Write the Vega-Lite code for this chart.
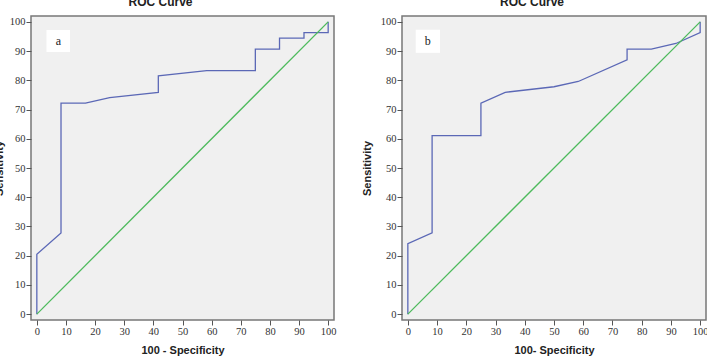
{
  "$schema": "https://vega.github.io/schema/vega-lite/v6.json",
  "padding": {"left": -8, "top": -5, "right": 0, "bottom": 0},
  "background": "white",
  "spacing": 68,
  "bounds": "flush",
  "config": {
    "view": {"fill": "#f0f0f0", "stroke": "#777777", "strokeWidth": 1.5},
    "axis": {
      "domain": false, "grid": false, "labelOverlap": false, "labelFlush": false, "tickCount": 12,
      "labelFont": "Liberation Serif", "labelFontSize": 10.5, "labelColor": "#333333",
      "tickColor": "#555555", "tickSize": 5, "labelPadding": 1,
      "titleFont": "Liberation Sans", "titleFontWeight": "bold", "titleFontSize": 11, "titleColor": "#222222"
    },
    "title": {"font": "Liberation Sans", "fontSize": 12, "fontWeight": "bold", "color": "#222222", "anchor": "middle", "dx": -22, "offset": 7}
  },
  "datasets": {
    "roc": [
      {"panel": "a", "series": "ROC", "i": 0, "fpr": 0, "sens": 0},
      {"panel": "a", "series": "ROC", "i": 1, "fpr": 0, "sens": 20.5},
      {"panel": "a", "series": "ROC", "i": 2, "fpr": 8.3, "sens": 27.8},
      {"panel": "a", "series": "ROC", "i": 3, "fpr": 8.3, "sens": 72.2},
      {"panel": "a", "series": "ROC", "i": 4, "fpr": 16.7, "sens": 72.2},
      {"panel": "a", "series": "ROC", "i": 5, "fpr": 25, "sens": 74.1},
      {"panel": "a", "series": "ROC", "i": 6, "fpr": 41.7, "sens": 75.9},
      {"panel": "a", "series": "ROC", "i": 7, "fpr": 41.7, "sens": 81.5},
      {"panel": "a", "series": "ROC", "i": 8, "fpr": 58.3, "sens": 83.3},
      {"panel": "a", "series": "ROC", "i": 9, "fpr": 75, "sens": 83.3},
      {"panel": "a", "series": "ROC", "i": 10, "fpr": 75, "sens": 90.7},
      {"panel": "a", "series": "ROC", "i": 11, "fpr": 83.3, "sens": 90.7},
      {"panel": "a", "series": "ROC", "i": 12, "fpr": 83.3, "sens": 94.4},
      {"panel": "a", "series": "ROC", "i": 13, "fpr": 91.7, "sens": 94.4},
      {"panel": "a", "series": "ROC", "i": 14, "fpr": 91.7, "sens": 96.3},
      {"panel": "a", "series": "ROC", "i": 15, "fpr": 100, "sens": 96.3},
      {"panel": "a", "series": "ROC", "i": 16, "fpr": 100, "sens": 100},
      {"panel": "a", "series": "Reference", "i": 0, "fpr": 0, "sens": 0},
      {"panel": "a", "series": "Reference", "i": 1, "fpr": 100, "sens": 100},
      {"panel": "b", "series": "ROC", "i": 0, "fpr": 0, "sens": 0},
      {"panel": "b", "series": "ROC", "i": 1, "fpr": 0, "sens": 24.1},
      {"panel": "b", "series": "ROC", "i": 2, "fpr": 8.3, "sens": 27.8},
      {"panel": "b", "series": "ROC", "i": 3, "fpr": 8.3, "sens": 61.1},
      {"panel": "b", "series": "ROC", "i": 4, "fpr": 25, "sens": 61.1},
      {"panel": "b", "series": "ROC", "i": 5, "fpr": 25, "sens": 72.2},
      {"panel": "b", "series": "ROC", "i": 6, "fpr": 33.3, "sens": 75.9},
      {"panel": "b", "series": "ROC", "i": 7, "fpr": 50, "sens": 77.8},
      {"panel": "b", "series": "ROC", "i": 8, "fpr": 58.3, "sens": 79.6},
      {"panel": "b", "series": "ROC", "i": 9, "fpr": 75, "sens": 87},
      {"panel": "b", "series": "ROC", "i": 10, "fpr": 75, "sens": 90.7},
      {"panel": "b", "series": "ROC", "i": 11, "fpr": 83.3, "sens": 90.7},
      {"panel": "b", "series": "ROC", "i": 12, "fpr": 91.7, "sens": 92.6},
      {"panel": "b", "series": "ROC", "i": 13, "fpr": 100, "sens": 96.3},
      {"panel": "b", "series": "ROC", "i": 14, "fpr": 100, "sens": 100},
      {"panel": "b", "series": "Reference", "i": 0, "fpr": 0, "sens": 0},
      {"panel": "b", "series": "Reference", "i": 1, "fpr": 100, "sens": 100}
    ]
  },
  "hconcat": [
    {
      "width": 303, "height": 304,
      "title": {"text": "ROC Curve"},
      "layer": [
        {
          "data": {"name": "roc"},
          "transform": [{"filter": "datum.panel === 'a'"}],
          "mark": {"type": "line", "strokeWidth": 1.3},
          "encoding": {
            "x": {"field": "fpr", "type": "quantitative",
              "scale": {"domain": [-2, 102], "nice": false, "zero": false},
              "axis": {"values": [0, 10, 20, 30, 40, 50, 60, 70, 80, 90, 100], "tickCount": 12, "title": "100 - Specificity", "titlePadding": 8}},
            "y": {"field": "sens", "type": "quantitative",
              "scale": {"domain": [-2, 102], "nice": false, "zero": false},
              "axis": {"values": [0, 10, 20, 30, 40, 50, 60, 70, 80, 90, 100], "tickCount": 12, "title": "Sensitivity", "titlePadding": 5}},
            "order": {"field": "i"},
            "color": {"field": "series", "type": "nominal",
              "scale": {"domain": ["ROC", "Reference"], "range": ["#5b68b6", "#4dba5c"]}, "legend": null}
          }
        },
        {
          "data": {"values": [{"label": "a"}]},
          "mark": {"type": "rect", "fill": "white"},
          "encoding": {
            "x": {"datum": 3.3, "type": "quantitative"},
            "x2": {"datum": 11.4},
            "y": {"datum": 97.2, "type": "quantitative"},
            "y2": {"datum": 89.7}
          }
        },
        {
          "data": {"values": [{"label": "a"}]},
          "mark": {"type": "text", "font": "Liberation Serif", "fontSize": 12, "color": "#222222"},
          "encoding": {
            "x": {"datum": 7.4, "type": "quantitative"},
            "y": {"datum": 93.5, "type": "quantitative"},
            "text": {"field": "label"}
          }
        }
      ]
    },
    {
      "width": 304, "height": 304,
      "title": {"text": "ROC Curve"},
      "layer": [
        {
          "data": {"name": "roc"},
          "transform": [{"filter": "datum.panel === 'b'"}],
          "mark": {"type": "line", "strokeWidth": 1.3},
          "encoding": {
            "x": {"field": "fpr", "type": "quantitative",
              "scale": {"domain": [-2, 102], "nice": false, "zero": false},
              "axis": {"values": [0, 10, 20, 30, 40, 50, 60, 70, 80, 90, 100], "tickCount": 12, "title": "100- Specificity", "titlePadding": 8}},
            "y": {"field": "sens", "type": "quantitative",
              "scale": {"domain": [-2, 102], "nice": false, "zero": false},
              "axis": {"values": [0, 10, 20, 30, 40, 50, 60, 70, 80, 90, 100], "tickCount": 12, "title": "Sensitivity", "titlePadding": 8}},
            "order": {"field": "i"},
            "color": {"field": "series", "type": "nominal",
              "scale": {"domain": ["ROC", "Reference"], "range": ["#5b68b6", "#4dba5c"]}, "legend": null}
          }
        },
        {
          "data": {"values": [{"label": "b"}]},
          "mark": {"type": "rect", "fill": "white"},
          "encoding": {
            "x": {"datum": 2.7, "type": "quantitative"},
            "x2": {"datum": 11},
            "y": {"datum": 97.3, "type": "quantitative"},
            "y2": {"datum": 89.4}
          }
        },
        {
          "data": {"values": [{"label": "b"}]},
          "mark": {"type": "text", "font": "Liberation Serif", "fontSize": 12, "color": "#222222"},
          "encoding": {
            "x": {"datum": 6.8, "type": "quantitative"},
            "y": {"datum": 93.5, "type": "quantitative"},
            "text": {"field": "label"}
          }
        }
      ]
    }
  ]
}
